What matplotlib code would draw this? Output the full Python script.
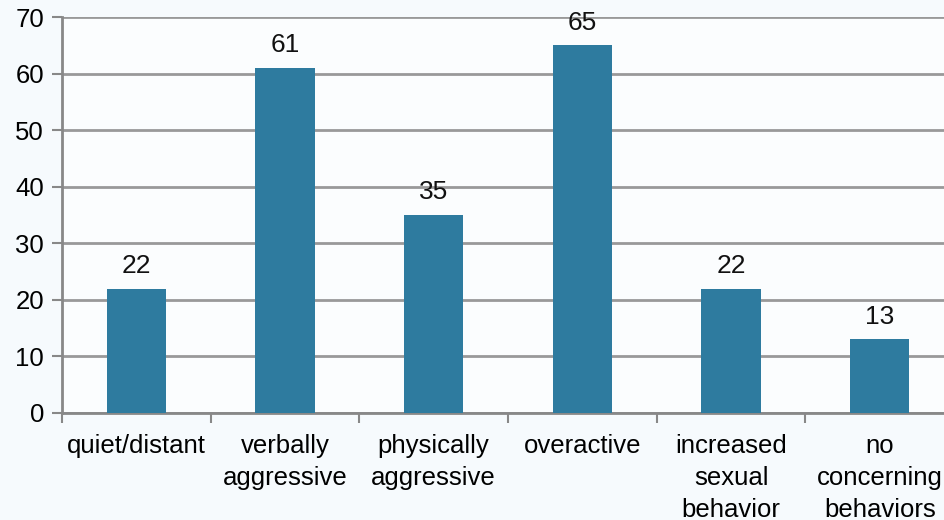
import numpy as np
import matplotlib.pyplot as plt

categories = ["quiet/distant", "verbally\naggressive", "physically\naggressive",
              "overactive", "increased\nsexual\nbehavior", "no\nconcerning\nbehaviors"]
counts = [22, 61, 35, 65, 22, 13]
yticks = [0, 10, 20, 30, 40, 50, 60, 70]

plt.rcParams['font.family'] = ['Liberation Sans', 'DejaVu Sans']

fig = plt.figure(figsize=(9.45, 5.2), dpi=100, facecolor='#f6fafd')
ax = fig.add_axes([0.0656, 0.206, 0.944, 0.761])
ax.set_facecolor('#fbfdfe')

x = np.arange(len(categories))
ax.bar(x, counts, width=0.40, color='#2e7b9f', zorder=3)

# value labels above each bar
for xi, v in zip(x, counts):
    ax.text(xi, v + 1.9, str(v), ha='center', va='bottom', fontsize=19, color='#111111')

ax.set_xlim(-0.5, len(categories) - 0.5)
ax.set_ylim(0, 70)
ax.set_yticks(yticks)
ax.tick_params(axis='y', labelsize=18.5, length=7, width=1.5, color='#888888', pad=6)

# category labels centred, ticks on category boundaries
ax.set_xticks(x)
ax.set_xticklabels(categories, fontsize=18.5, linespacing=1.42)
ax.tick_params(axis='x', which='major', length=0, pad=15)
ax.set_xticks(np.arange(-0.5, len(categories) + 0.5, 1), minor=True)
ax.tick_params(axis='x', which='minor', length=7, width=1.5, color='#888888')

ax.grid(axis='y', color='#999999', linewidth=2, zorder=0)
for side in ['top', 'right']:
    ax.spines[side].set_visible(False)
for side in ['left', 'bottom']:
    ax.spines[side].set_color('#888888')
    ax.spines[side].set_linewidth(2)

fig.savefig('out.png', dpi=100, facecolor=fig.get_facecolor())
